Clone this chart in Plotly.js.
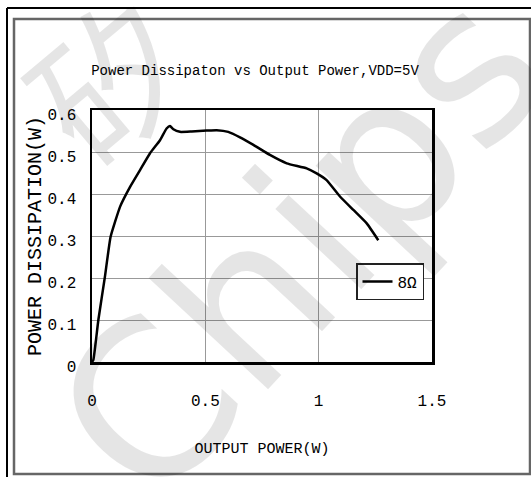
<!DOCTYPE html>
<html>
<head>
<meta charset="utf-8">
<script src="https://cdn.plot.ly/plotly-3.0.1.min.js"></script>
<style>html,body{margin:0;padding:0;background:#fff;}</style>
</head>
<body>
<div id="chart" style="width:531px;height:477px;"></div>
<script>
// Data (8 ohm load, VDD = 5V)
const outputPower = [0.000, 0.006, 0.028, 0.057, 0.082, 0.124, 0.168, 0.212, 0.256, 0.300, 0.329, 0.344, 0.359, 0.388, 0.440, 0.506, 0.550, 0.601, 0.653, 0.712, 0.785, 0.859, 0.947, 0.991, 1.035, 1.094, 1.153, 1.212, 1.263];
const powerDissipation = [0.000, 0.005, 0.100, 0.203, 0.298, 0.370, 0.417, 0.457, 0.497, 0.528, 0.556, 0.562, 0.554, 0.548, 0.549, 0.551, 0.552, 0.548, 0.535, 0.517, 0.493, 0.473, 0.461, 0.449, 0.433, 0.394, 0.362, 0.330, 0.290];
const seriesName = '8Ω';
const chartTitle = 'Power Dissipaton vs Output Power,VDD=5V';
const xTitle = 'OUTPUT POWER(W)';
const yTitle = 'POWER DISSIPATION(W)';
const xTickVals = [0, 0.5, 1, 1.5];
const xTickText = ['0', '0.5', '1', '1.5'];
const yTickVals = [0, 0.1, 0.2, 0.3, 0.4, 0.5, 0.6];
const yTickText = ['0', '0.1', '0.2', '0.3', '0.4', '0.5', '0.6'];
const watermarkMain = 'Chips';
const watermarkChar = '矽';

const W = 531, H = 477;
const L = 92, R = 432, T = 110, B = 362;
const px = v => (v - L) / (R - L);
const py = v => (B - v) / (B - T);
const FONT = 'Liberation Mono, DejaVu Sans Mono, monospace';

const trace = {
  x: outputPower,
  y: powerDissipation,
  type: 'scatter',
  mode: 'lines',
  name: seriesName,
  line: {color: '#000', width: 2.5, shape: 'spline', smoothing: 0.4},
  hoverinfo: 'x+y'
};

const layout = {
  width: W, height: H,
  margin: {l: L, r: W - R, t: T, b: H - B, pad: 0},
  paper_bgcolor: '#fff',
  plot_bgcolor: '#fff',
  font: {family: FONT, color: '#000', size: 15},
  title: {
    text: chartTitle,
    font: {family: FONT, size: 14, color: '#000'},
    xref: 'container', yref: 'container',
    x: 255 / W, y: 1 - 70 / H, xanchor: 'center', yanchor: 'middle'
  },
  showlegend: true,
  legend: {
    x: px(356), y: py(263), xanchor: 'left', yanchor: 'top',
    bgcolor: '#fff', bordercolor: '#222', borderwidth: 1.5,
    font: {family: FONT, size: 16, color: '#000'},
    itemwidth: 30
  },
  xaxis: {
    range: [0, 1.5],
    tickvals: xTickVals, ticktext: xTickText,
    showgrid: true, gridcolor: '#999', gridwidth: 1,
    zeroline: false,
    showline: true, linecolor: '#000', linewidth: 2.5, mirror: true,
    ticks: 'outside', ticklen: 22, tickcolor: 'rgba(0,0,0,0)',
    tickfont: {family: FONT, size: 16, color: '#000'},
    title: {text: xTitle, font: {family: FONT, size: 15, color: '#000'}, standoff: 33},
    fixedrange: true
  },
  yaxis: {
    range: [0, 0.6],
    tickvals: yTickVals, ticktext: yTickText,
    ticklabelshift: 4,
    showgrid: true, gridcolor: '#999', gridwidth: 1,
    zeroline: false,
    showline: true, linecolor: '#000', linewidth: 2.5, mirror: true,
    ticks: 'outside', ticklen: 10, tickcolor: 'rgba(0,0,0,0)',
    tickfont: {family: FONT, size: 16, color: '#000'},
    title: {text: yTitle, font: {family: FONT, size: 20, color: '#000'}, standoff: 0},
    fixedrange: true
  },
  annotations: [
    {text: watermarkMain, xref: 'paper', yref: 'paper', x: px(300), y: py(245),
     xanchor: 'center', yanchor: 'middle', showarrow: false, textangle: -47,
     font: {family: 'DejaVu Sans, sans-serif', size: 215, color: 'rgba(0,0,0,0.1)'}},
    {text: watermarkChar, xref: 'paper', yref: 'paper', x: px(105), y: py(75),
     xanchor: 'center', yanchor: 'middle', showarrow: false, textangle: -40,
     font: {family: 'Noto Sans CJK SC, sans-serif', size: 150, color: 'rgba(0,0,0,0.1)'}}
  ],
  shapes: [
    // outer black frame (left and top edges)
    {type: 'line', xref: 'paper', yref: 'paper', x0: px(7), x1: px(7), y0: py(8), y1: py(480), line: {color: '#000', width: 2}},
    {type: 'line', xref: 'paper', yref: 'paper', x0: px(7), x1: px(533), y0: py(8), y1: py(8), line: {color: '#000', width: 2}},
    // inner grey frame
    {type: 'rect', xref: 'paper', yref: 'paper', x0: px(14), x1: px(530), y0: py(19), y1: py(474), line: {color: '#666', width: 2.5}, fillcolor: 'rgba(0,0,0,0)', layer: 'below'}
  ]
};

Plotly.newPlot('chart', [trace], layout, {displayModeBar: false, staticPlot: true});
</script>
</body>
</html>
